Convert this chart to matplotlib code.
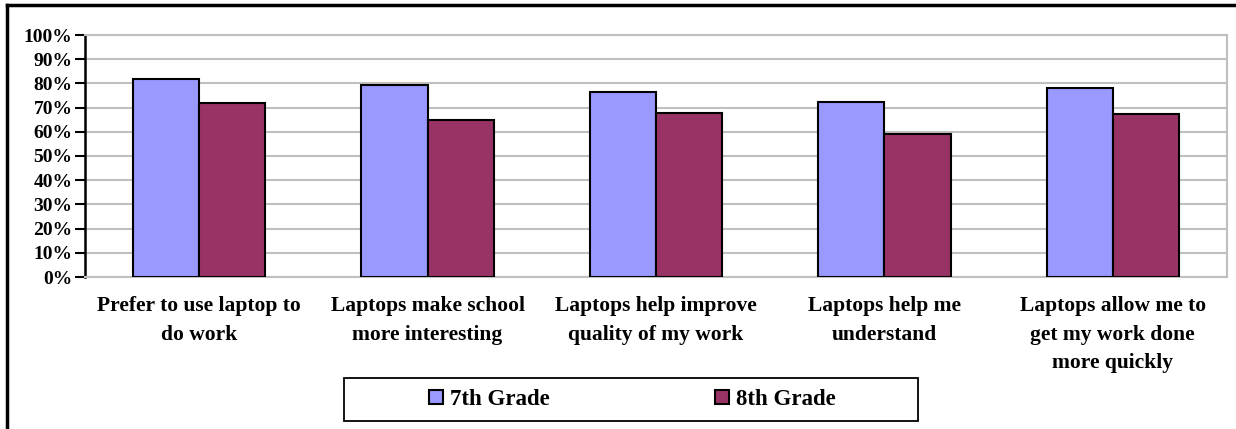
import matplotlib
matplotlib.use("Agg")
import matplotlib.pyplot as plt
import numpy as np
from matplotlib.ticker import PercentFormatter
from matplotlib.patches import Rectangle

categories = [
    "Prefer to use laptop to\ndo work",
    "Laptops make school\nmore interesting",
    "Laptops help improve\nquality of my work",
    "Laptops help me\nunderstand",
    "Laptops allow me to\nget my work done\nmore quickly",
]
grade7 = [81.7, 79.2, 76.6, 72.4, 78.2]
grade8 = [71.7, 65.0, 67.6, 59.2, 67.5]
series_names = ["7th Grade", "8th Grade"]
yticks = list(range(0, 101, 10))

plt.rcParams['font.family'] = ['Liberation Serif', 'DejaVu Serif']
plt.rcParams['font.weight'] = 'bold'

W, H = 1236, 429
fig = plt.figure(figsize=(W/100, H/100), dpi=100)
ax = fig.add_axes([85/W, 1-277/H, (1227-85)/W, (277-35)/H])

x = np.arange(len(categories))
w = 0.29
ax.bar(x - w/2, grade7, w, color='#9999FF', edgecolor='black', linewidth=1.5,
       label=series_names[0], zorder=3)
ax.bar(x + w/2, grade8, w, color='#993366', edgecolor='black', linewidth=1.5,
       label=series_names[1], zorder=3)

ax.set_xlim(-0.5, len(categories) - 0.5)
ax.set_ylim(0, 100)
ax.set_yticks(yticks)
ax.yaxis.set_major_formatter(PercentFormatter(decimals=0))
ax.grid(axis='y', color='#c0c0c0', linewidth=1.5, zorder=0)
ax.set_xticks(x)
ax.set_xticklabels(categories, fontsize=15.5, fontweight='bold', linespacing=1.55)
ax.tick_params(axis='x', length=0, pad=14)
ax.tick_params(axis='y', length=7, width=1.5, direction='out', labelsize=14, pad=2)
for lab in ax.get_yticklabels():
    lab.set_fontweight('bold')

ax.spines['left'].set_color('black')
ax.spines['left'].set_linewidth(1.8)
for s in ['right', 'top', 'bottom']:
    ax.spines[s].set_color('#c0c0c0')
    ax.spines[s].set_linewidth(1.5)

# legend frame
fig.add_artist(Rectangle((344/W, 1-421/H), (918-344)/W, (421-378)/H, transform=fig.transFigure,
                         fill=False, edgecolor='black', linewidth=1.3))
fs = 16.5
leg = fig.legend(loc='center left', bbox_to_anchor=(429/W, 1-399.5/H), ncol=2, frameon=False,
                 prop={'size': fs, 'weight': 'bold'}, handlelength=0.62, handleheight=0.62,
                 handletextpad=0.3, columnspacing=7.2, borderaxespad=0, borderpad=0)

# outer frame (left and top visible)
fig.add_artist(plt.Line2D([7/W, 7/W], [0, 1-5/H], color='black', linewidth=2.5,
                          transform=fig.transFigure))
fig.add_artist(plt.Line2D([7/W, 1], [1-5/H, 1-5/H], color='black', linewidth=2.5,
                          transform=fig.transFigure))

fig.savefig('out.png', dpi=100)
